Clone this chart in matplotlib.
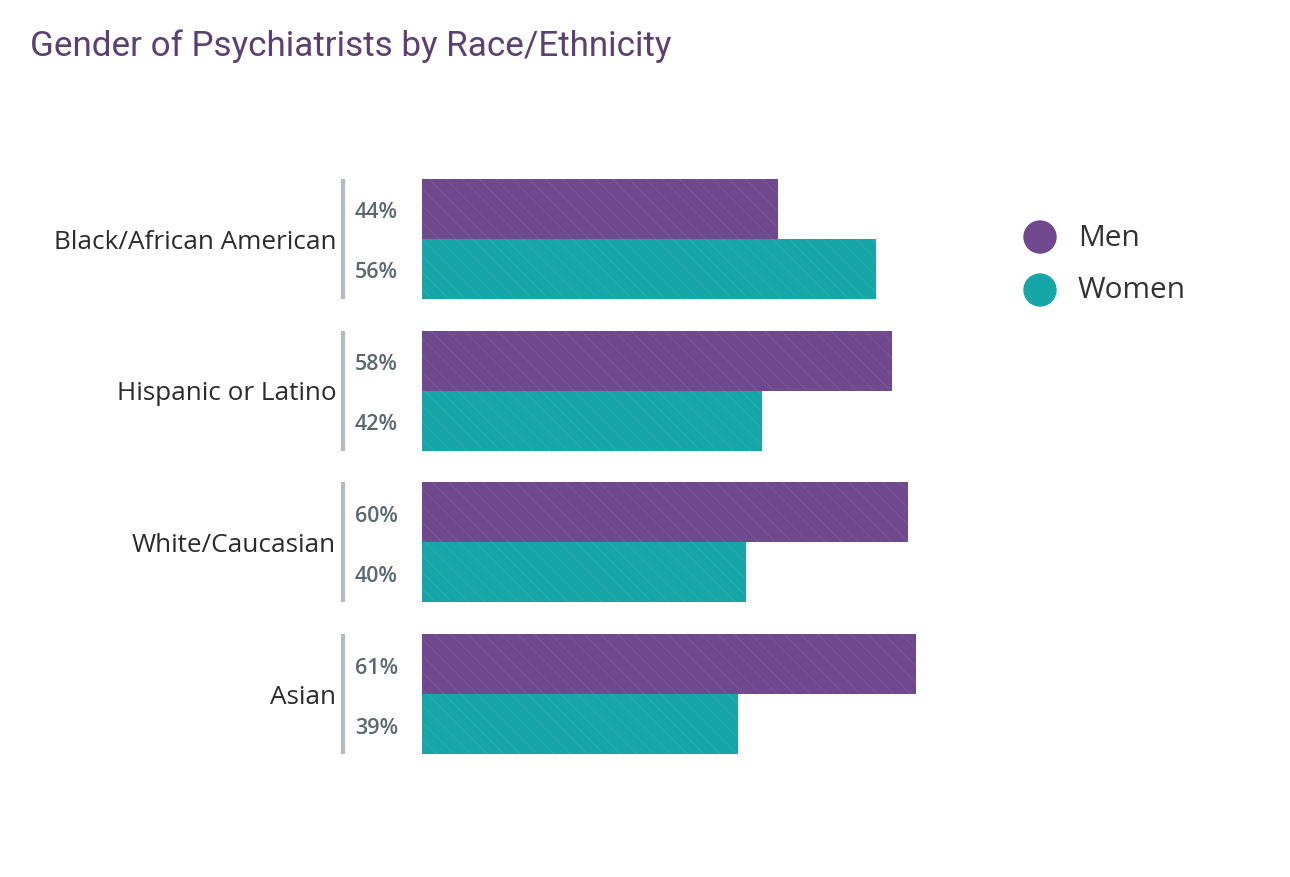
import numpy as np
import matplotlib
matplotlib.use("Agg")
import matplotlib.pyplot as plt

categories = ["Black/African American", "Hispanic or Latino", "White/Caucasian", "Asian"]
men = [44, 58, 60, 61]
women = [56, 42, 40, 39]
series = ["Men", "Women"]

PURPLE = "#70488e"
TEAL = "#17a6a7"
W, H = 1290, 878

fig = plt.figure(figsize=(W / 100, H / 100), dpi=100)
fig.patch.set_facecolor("white")

# axes placed in pixel terms: zero at x=422, 100% at x=1232, bars span y=180..755
ax = fig.add_axes([422 / W, 1 - 755 / H, 810 / W, 575 / H])
h = 60 / 152
y = np.arange(len(categories))
plt.rcParams["hatch.linewidth"] = 0.5

for vals, off, col in [(men, -h / 2, PURPLE), (women, h / 2, TEAL)]:
    ax.barh(y + off, vals, height=h, color=col, linewidth=0)
    ax.barh(y + off, vals, height=h, facecolor="none", edgecolor=(1, 1, 1, 0.12),
            linewidth=0, hatch="\\\\")

ax.set_xlim(0, 100)
ax.set_ylim(len(categories) - 1 + h, -h)
ax.axis("off")

for i, cat in enumerate(categories):
    # gray bracket line left of the bars
    ax.plot([-9.75, -9.75], [i - h, i + h], color="#b4bbc0", lw=3, clip_on=False,
            solid_capstyle="butt")
    ax.text(-10.6, i + 0.015, cat, ha="right", va="center", fontsize=18.8,
            family="Open Sans", color="#2b2b2b", clip_on=False)
    ax.text(-8.3, i - h / 2 + 0.02, f"{men[i]}%", ha="left", va="center", fontsize=15.5,
            family="Open Sans", fontweight="semibold", color="#5a6870", clip_on=False)
    ax.text(-8.3, i + h / 2 + 0.02, f"{women[i]}%", ha="left", va="center", fontsize=15.5,
            family="Open Sans", fontweight="semibold", color="#5a6870", clip_on=False)

fig.text(30 / W, 1 - 46 / H, "Gender of Psychiatrists by Race/Ethnicity", ha="left",
         va="center", fontsize=25.2, family="Roboto", color="#5d3f73")

# legend
for name, col, py in [(series[0], PURPLE, 238), (series[1], TEAL, 291)]:
    fig.patches.append(matplotlib.patches.Ellipse((1040 / W, 1 - py / H), 32 / W, 32 / H,
                       transform=fig.transFigure, color=col))
    fig.text(1078 / W, 1 - py / H, name, ha="left", va="center", fontsize=21.5,
             family="Open Sans", color="#333333")

fig.savefig("out.png", dpi=100)
